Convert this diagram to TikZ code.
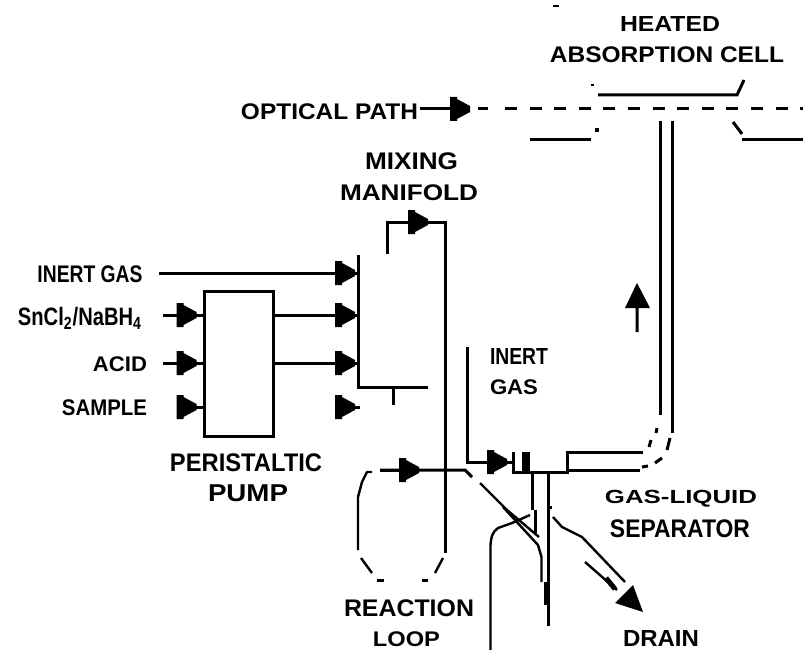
\documentclass[tikz,border=0pt]{standalone}
\usepackage{fontspec}
\setmainfont{Liberation Sans}
\usepackage{graphicx}
\usetikzlibrary{arrows.meta}
\pgfdeclarearrow{
  name=BlockHead,
  setup code={\pgfarrowssettipend{20pt}\pgfarrowssetlineend{10pt}\pgfarrowssetvisualbackend{0pt}\pgfarrowssetbackend{0pt}},
  drawing code={
    \pgfpathmoveto{\pgfqpoint{0pt}{12pt}}
    \pgfpathlineto{\pgfqpoint{7pt}{12pt}}
    \pgfpathlineto{\pgfqpoint{7pt}{10pt}}
    \pgfpathlineto{\pgfqpoint{20pt}{3pt}}
    \pgfpathlineto{\pgfqpoint{20pt}{-3pt}}
    \pgfpathlineto{\pgfqpoint{7pt}{-10pt}}
    \pgfpathlineto{\pgfqpoint{7pt}{-12pt}}
    \pgfpathlineto{\pgfqpoint{0pt}{-12pt}}
    \pgfpathclose\pgfusepathqfill},
}
\tikzset{
  wire/.style={line width=3pt,line cap=butt,line join=miter,black},
  fine/.style={line width=2.4pt,line cap=butt,line join=round,black},
  flow/.style={wire,-{BlockHead}},
  lab/.style={inner sep=0pt,outer sep=0pt},
  boxnode/.style={draw,line width=3pt,minimum width=69pt,minimum height=145pt,inner sep=0pt}
}
\newcommand{\fitlab}[6]{\node[lab] (#1) at (#2,#3) {\resizebox*{#4pt}{#5pt}{\bfseries #6}};}
% line from #1 to #2 with the head's point #3 short of #2
\newcommand{\conn}[3]{\draw[wire] (#1) -- (#2); \draw[flow,shorten >=#3pt] (#1) -- (#2);}
\begin{document}
\begin{tikzpicture}[x=1pt,y=-1pt]
\useasboundingbox[fill=white] (0,0) rectangle (803,650);
% labels
\fitlab{heated}{670}{24.5}{100}{15}{HEATED}
\fitlab{absorb}{667}{55}{234}{16}{ABSORPTION CELL}
\fitlab{optical}{329.5}{112}{177}{16}{OPTICAL PATH}
\fitlab{mixing}{411.5}{161.5}{93}{17}{MIXING}
\fitlab{manifold}{409}{193}{138}{16}{MANIFOLD}
\fitlab{inert}{90}{274}{105}{17}{INERT GAS}
\fitlab{sncl}{80}{318.5}{124}{22}{SnCl\textsubscript{2}/NaBH\textsubscript{4}}
\fitlab{acid}{120}{364.5}{54}{15}{ACID}
\fitlab{sample}{104.5}{408}{85}{16}{SAMPLE}
\fitlab{peri}{246}{463}{152}{18}{PERISTALTIC}
\fitlab{pumpl}{248}{493.5}{80}{17}{PUMP}
\fitlab{inerta}{519}{356}{58}{16}{INERT}
\fitlab{gasa}{514}{387.5}{48}{15}{GAS}
\fitlab{gasliq}{681}{498.5}{152}{17}{GAS-LIQUID}
\fitlab{sep}{680}{529}{140}{18}{SEPARATOR}
\fitlab{react}{409}{608.5}{130}{17}{REACTION}
\fitlab{loop}{406.5}{639}{67}{15}{LOOP}
\fitlab{drain}{661}{638}{76}{16}{DRAIN}
% coordinates
\coordinate (optS) at (420,109); \coordinate (optH) at (470,109); \coordinate (optR) at (803,109);
\coordinate (gasS) at (159,273); \coordinate (manG) at (358,273);
\coordinate (snS) at (163,315); \coordinate (acS) at (163,363); \coordinate (saS) at (178,407);
\coordinate (manS) at (358,315); \coordinate (manA) at (358,363);
\coordinate (lfS) at (335,407); \coordinate (lfE) at (360,407);
\coordinate (manT) at (358,255); \coordinate (manB) at (358,387); \coordinate (manR) at (428,387);
\coordinate (topA) at (408,222); \coordinate (topB) at (428,222);
\coordinate (lpS) at (380,470); \coordinate (lpE) at (465,470);
\coordinate (igC) at (467,462); \coordinate (igE) at (513,462);
\node[boxnode] (pump) at (238.5,363.5) {};
% optical path
\draw[flow] (optS) -- (optH);
\draw[wire] (478,109) -- (488,109);
\draw[wire,dash pattern=on 12pt off 12.6pt] (505,109) -- (optR);
% cell
\draw[wire] (598,95) -- (737,95) -- (744,80);
\draw[wire] (530,140) -- (591,140);
\draw[wire] (733,122) -- (742,134);
\draw[wire] (742,140) -- (803,140);
\fill (591,84) rectangle (594,86.5);
\fill (595,128) rectangle (599,132);
\fill (553,5) rectangle (559,7.5);
% inlets
\conn{gasS}{manG}{3}
\conn{snS}{pump.west |- snS}{6}
\conn{acS}{pump.west |- acS}{6}
\conn{saS}{pump.west |- saS}{6}
\conn{pump.east |- manS}{manS}{3}
\conn{pump.east |- manA}{manA}{3}
\conn{lfS}{lfE}{5}
% manifold
\draw[wire] (manT) -- (manB) -- (manR);
\draw[wire] (393,387) -- (393,405);
\draw[wire] (387,254) -- (387,222) -- (445.5,222) -- (445.5,553);
\draw[flow] (topA) -- (topB);
% loop
\draw[flow] (lpS) -- (419,470);
\draw[wire] (lpS) -- (lpE) -- (472,477);
\draw[fine] (480,483) -- (507,510) -- (539,537);
\draw[fine] (503,507) -- (538,545) -- (541.5,557) -- (541.5,582);
\draw[wire] (545,582) -- (545,605);
\draw[fine] (530,515) -- (512,523) -- (498,528) .. controls (492,532) and (491,538) .. (490.5,545) -- (490.5,650);
\draw[fine] (372,472) -- (367,472) -- (362,482) -- (358,497) -- (358,550);
\draw[fine] (361,558) -- (372,573);
\draw[wire] (377,580) -- (384,580);
\draw[wire] (422,580) -- (428,580);
\draw[fine] (435,573) -- (443,558);
% inert gas to separator
\draw[wire] (467,347) -- (igC) -- (igE);
\draw[flow,shorten >=6pt] (igC) ++(18,0) -- (igE);
% separator
\draw[wire] (513,452) -- (513,472) -- (567,472) -- (567,452) -- (643,452);
\draw[wire] (567,470) -- (640,470);
\fill (522,452) rectangle (530,472);
\draw[wire] (532,472) -- (532,510);
\draw[wire] (535,510) -- (535,533);
\draw[wire] (548,472) -- (548,626);
% tube
\draw[wire] (660,121) -- (660,415);
\draw[wire] (672.5,121) -- (672.5,433);
\draw[wire] (657,428) -- (656,433);
\draw[wire] (651,440) -- (649,447);
\draw[wire] (670,438) -- (667,450);
\draw[wire] (662,458) -- (655,463);
\draw[wire] (648,466) -- (642,467);
% up arrow
\fill (637,283) -- (650,308) -- (638.5,308) -- (638.5,332) -- (635.5,332) -- (635.5,308) -- (625,308) -- cycle;
% drain
\fill (550,506) rectangle (552,509);
\draw[fine] (553,517) -- (562,527) -- (582,537) -- (625,582);
\draw[fine] (585,562) -- (617,590);
\draw[line width=5pt] (606,578) -- (615,589);
\fill (633,585) -- (615,603) -- (643,612) -- cycle;
\end{tikzpicture}
\end{document}
